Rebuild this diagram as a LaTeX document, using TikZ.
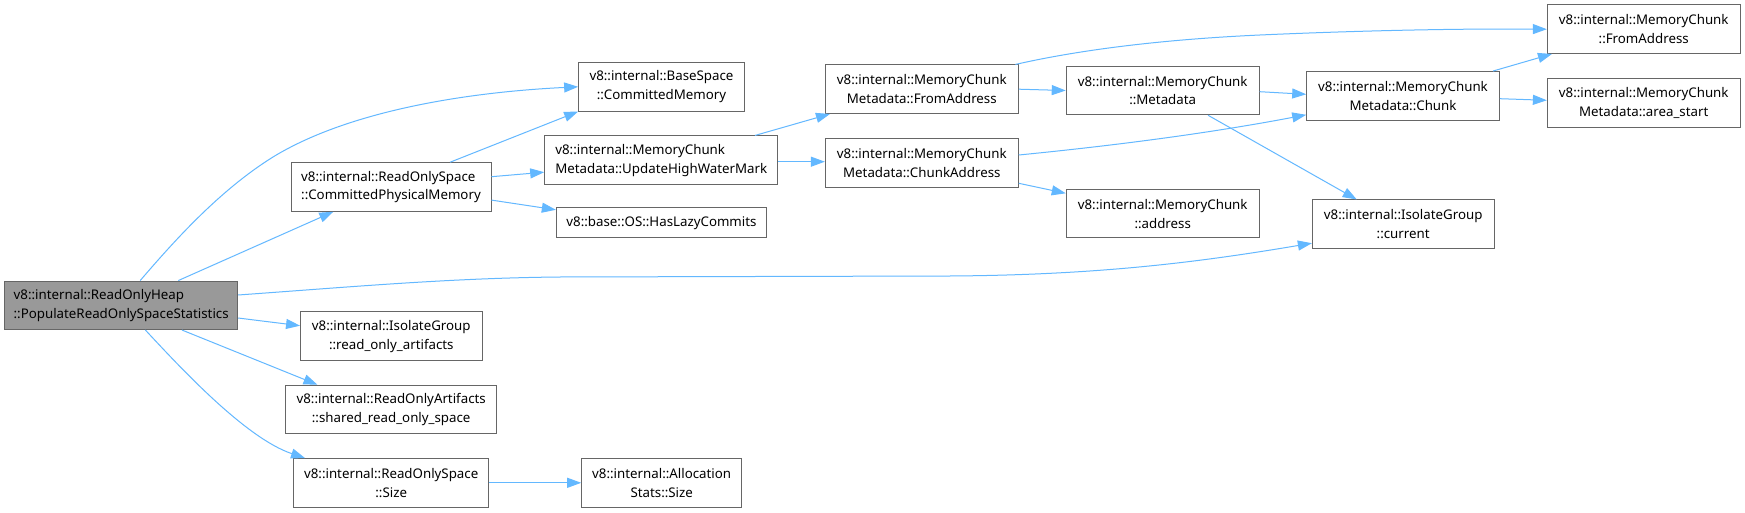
\documentclass[tikz,border=0pt]{standalone}
\usepackage{fontspec}
\setmainfont{Noto Sans}
\usetikzlibrary{arrows.meta,calc}
\definecolor{edgeblue}{HTML}{63B8FF}
\definecolor{boxborder}{HTML}{666666}
\definecolor{rootfill}{HTML}{999999}
\begin{document}
\begin{tikzpicture}[x=1pt,y=-1pt,
  box/.style={draw=boxborder, line width=1pt, fill=white, inner sep=0pt, align=center,
    minimum height=48.5pt, font=\fontsize{13.3}{18.7}\selectfont, text=black},
  lbox/.style={box, align=left},
  edge/.style={draw=edgeblue, line width=1pt, -{Triangle[length=14pt,width=10pt]}}]
\fill[white] (0,0) rectangle (1745,513);
\useasboundingbox (0,0) rectangle (1745,513);

% nodes
\node[lbox, fill=rootfill, minimum width=232.7pt] (heap) at (121.2,305.3) {v8::internal::ReadOnlyHeap\\::PopulateReadOnlySpaceStatistics};
\node[box, minimum width=165.7pt] (base) at (661.5,86.8) {v8::internal::BaseSpace\\::CommittedMemory};
\node[lbox, minimum width=200pt] (cpm) at (391,187) {v8::internal::ReadOnlySpace\\::CommittedPhysicalMemory};
\node[lbox, minimum width=233.2pt] (uhwm) at (661.3,160.2) {v8::internal::MemoryChunk\\Metadata::UpdateHighWaterMark};
\node[box, minimum width=210.3pt, minimum height=30.3pt] (lazy) at (661.5,222.8) {v8::base::OS::HasLazyCommits};
\node[box, minimum width=192.9pt] (mcmfrom) at (921.8,89.2) {v8::internal::MemoryChunk\\Metadata::FromAddress};
\node[box, minimum width=192.9pt] (mcmca) at (921.8,162.8) {v8::internal::MemoryChunk\\Metadata::ChunkAddress};
\node[box, minimum width=192.9pt] (mcmeta) at (1162.7,90.5) {v8::internal::MemoryChunk\\::Metadata};
\node[box, minimum width=192.9pt] (mcaddr) at (1162.7,213.7) {v8::internal::MemoryChunk\\::address};
\node[box, minimum width=192.6pt] (chunk) at (1403,95.8) {v8::internal::MemoryChunk\\Metadata::Chunk};
\node[box, minimum width=192.7pt] (mcfrom) at (1643.7,29.2) {v8::internal::MemoryChunk\\::FromAddress};
\node[box, minimum width=192.7pt] (area) at (1643.7,103) {v8::internal::MemoryChunk\\Metadata::area\_start};
\node[box, minimum width=181.7pt] (current) at (1403.2,224.2) {v8::internal::IsolateGroup\\::current};
\node[box, minimum width=181.5pt] (roa) at (391.3,336.2) {v8::internal::IsolateGroup\\::read\_only\_artifacts};
\node[box, minimum width=211.3pt] (shared) at (391.2,409.5) {v8::internal::ReadOnlyArtifacts\\::shared\_read\_only\_space};
\node[box, minimum width=195pt] (size) at (391.2,482.8) {v8::internal::ReadOnlySpace\\::Size};
\node[box, minimum width=160pt] (alloc) at (661.7,482.8) {v8::internal::Allocation\\Stats::Size};

% edges
\draw[edge] ($(heap.north)+(19,0)$) .. controls (175,240) and (220,190) .. (273,157)
  .. controls (350,110) and (470,92) .. (base.west);
\draw[edge] ($(heap.north)+(57.1,0)$) -- ($(cpm.south)+(-57.7,0)$);
\draw[edge] ($(heap.east)+(0,-10.3)$) .. controls (350,287) and (450,278) .. (560,277)
  -- (950,276) .. controls (1100,275) and (1200,262) .. ($(current.west)+(0,19)$);
\draw[edge] ($(heap.east)+(0,12.7)$) -- ($(roa.west)+(0,-10.5)$);
\draw[edge] ($(heap.south)+(60.8,0)$) -- ($(shared.north)+(-73.7,0)$);
\draw[edge] ($(heap.south)+(24.2,0)$) .. controls (178,365) and (245,438) .. ($(size.north)+(-86.2,0)$);
\draw[edge] (size.east) -- (alloc.west);
\draw[edge] ($(cpm.north)+(59,0)$) -- (base.south west);
\draw[edge] ($(cpm.east)+(0,-10.3)$) -- ($(uhwm.west)+(0,12)$);
\draw[edge] ($(cpm.east)+(0,13.1)$) -- ($(lazy.west)+(0,-13)$);
\draw[edge] ($(uhwm.north)+(93.7,0)$) -- ($(mcmfrom.south)+(-91.8,0)$);
\draw[edge] ($(uhwm.east)+(0,1.5)$) -- ($(mcmca.west)+(0,-1.1)$);
\draw[edge] (mcmfrom.east) -- (mcmeta.west);
\draw[edge] ($(mcmfrom.north)+(93.6,0)$) .. controls (1070,52) and (1150,40) .. (1260,35)
  .. controls (1350,31) and (1450,28.5) .. (mcfrom.west);
\draw[edge] ($(mcmca.east)+(0,-7.8)$) .. controls (1100,147) and (1200,135) .. ($(chunk.west)+(0,19)$);
\draw[edge] ($(mcmca.east)+(0,20.5)$) -- ($(mcaddr.west)+(0,-20.4)$);
\draw[edge] ($(mcmeta.east)+(0,1.2)$) -- ($(chunk.west)+(0,-1.5)$);
\draw[edge] ($(mcmeta.south)+(45.3,0)$) -- ($(current.north)+(-46.5,0)$);
\draw[edge] ($(chunk.north)+(90,0)$) -- ($(mcfrom.south)+(-91.7,0)$);
\draw[edge] ($(chunk.east)+(0,2.9)$) -- ($(area.west)+(0,-2.7)$);
\end{tikzpicture}
\end{document}
